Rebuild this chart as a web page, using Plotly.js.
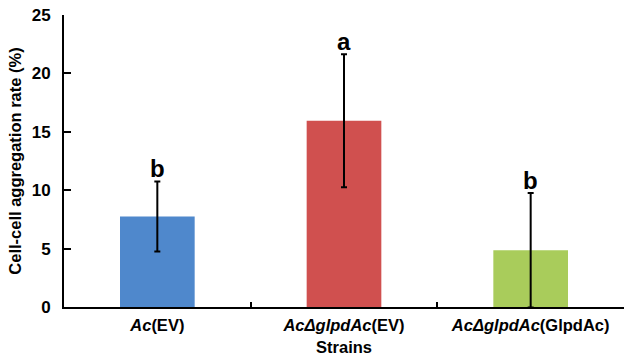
<!DOCTYPE html>
<html>
<head>
<meta charset="utf-8">
<script src="https://cdn.plot.ly/plotly-3.0.1.min.js"></script>
<style>html,body{margin:0;padding:0;background:#fff;}#chart{width:624px;height:363px;}</style>
</head>
<body>
<div id="chart"></div>
<script>
const categories = ["Ac(EV)", "AcΔglpdAc(EV)", "AcΔglpdAc(GlpdAc)"];
const tickLabels = ["<i>Ac</i>(EV)", "<i>AcΔglpdAc</i>(EV)", "<i>AcΔglpdAc</i>(GlpdAc)"];
const values = [7.75, 15.95, 4.85];
const errors = [3.0, 5.7, 4.9];
const letters = ["b", "a", "b"];
const colors = ["#4f88cc", "#d0504f", "#a9cc5b"];

const font = "Liberation Sans, Arial, sans-serif";

const trace = {
  type: "bar",
  x: categories,
  y: values,
  width: 0.4,
  marker: {color: colors, line: {width: 0}},
  error_y: {type: "data", array: errors, visible: true, color: "#000", thickness: 2, width: 3},
  hoverinfo: "none"
};

const annotations = categories.map((c, i) => ({
  x: c, y: values[i] + errors[i], xref: "x", yref: "y",
  text: "<b>" + letters[i] + "</b>", showarrow: false, yanchor: "bottom", yshift: -3,
  font: {family: font, size: 24, color: "#000"}
}));

const layout = {
  width: 624, height: 363,
  margin: {l: 64, r: 0, t: 15, b: 56},
  paper_bgcolor: "#fff", plot_bgcolor: "#fff",
  showlegend: false,
  font: {family: font, color: "#000"},
  xaxis: {
    type: "category",
    tickvals: categories, ticktext: tickLabels.map(t => "<b>" + t + "</b>"),
    tickson: "boundaries", ticks: "inside", ticklen: 5, tickwidth: 2, tickcolor: "#000",
    showline: true, linecolor: "#000", linewidth: 2,
    showgrid: false, zeroline: false,
    tickfont: {family: font, size: 16.5, color: "#000"},
    ticklabelstandoff: 2,
    title: {text: "<b>Strains</b>", font: {family: font, size: 16.5, color: "#000"}, standoff: 9},
    fixedrange: true
  },
  yaxis: {
    range: [0, 25], tickvals: [0, 5, 10, 15, 20, 25],
    ticktext: ["<b>0</b>", "<b>5</b>", "<b>10</b>", "<b>15</b>", "<b>20</b>", "<b>25</b>"],
    ticks: "inside", ticklen: 7, tickwidth: 2, tickcolor: "#000",
    showline: true, linecolor: "#000", linewidth: 2,
    showgrid: false, zeroline: false,
    tickfont: {family: font, size: 17, color: "#000"},
    ticklabelstandoff: 8,
    title: {text: "<b>Cell-cell aggregation rate (%)</b>", font: {family: font, size: 16.5, color: "#000"}, standoff: 6},
    fixedrange: true
  },
  annotations: annotations
};

Plotly.newPlot("chart", [trace], layout, {displayModeBar: false, staticPlot: true});
</script>
</body>
</html>
